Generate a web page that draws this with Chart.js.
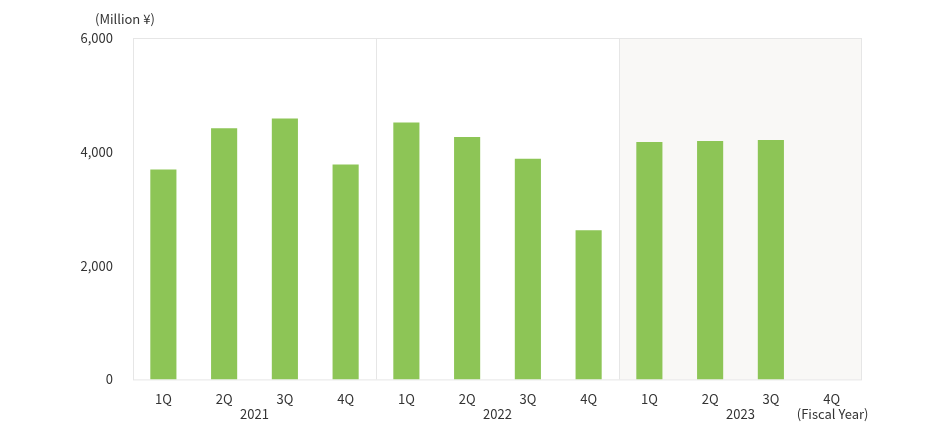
<!DOCTYPE html>
<html><head><meta charset="utf-8">
<script src="https://cdn.jsdelivr.net/npm/chart.js@4"></script>
<style>body{margin:0;background:#fff}#w{width:930px;height:441px;position:relative}</style>
</head><body><div id="w"><canvas id="c"></canvas></div>
<script>
const quarters=["1Q","2Q","3Q","4Q","1Q","2Q","3Q","4Q","1Q","2Q","3Q","4Q"];
const years=["2021","2022","2023"];
const sales=[3690,4414,4586,3776,4517,4259,3879,2621,4172,4190,4207,null];
const yTicks=[0,2000,4000,6000];
const FONT='"Noto Sans CJK JP","Noto Sans",sans-serif';
const deco={id:'deco',
 beforeDatasetsDraw(ch){const {ctx,chartArea:a,scales:{x}}=ch;
  const half=(x.getPixelForValue(1)-x.getPixelForValue(0))/2;
  const s3=x.getPixelForValue(8)-half;
  ctx.save();ctx.fillStyle='#f9f8f6';ctx.fillRect(s3,a.top,a.right-s3,a.bottom-a.top);
  ctx.strokeStyle='#e6e6e6';ctx.lineWidth=1;
  [4,8].forEach(i=>{const px=Math.round(x.getPixelForValue(i)-half)+0.5;ctx.beginPath();ctx.moveTo(px,a.top);ctx.lineTo(px,a.bottom);ctx.stroke();});
  ctx.strokeRect(a.left+0.5,a.top+0.5,a.right-a.left-1,a.bottom-a.top);
  ctx.restore();},
 afterDraw(ch){const {ctx,chartArea:a,scales:{x}}=ch;
  ctx.save();ctx.fillStyle='#333';ctx.font='13px '+FONT;ctx.textAlign='center';ctx.textBaseline='middle';
  years.forEach((y,i)=>{const c=(x.getPixelForValue(i*4+1)+x.getPixelForValue(i*4+2))/2;ctx.fillText(y,c,a.bottom+35);});
  ctx.fillText('(Fiscal Year)',x.getPixelForValue(11)+1,a.bottom+35);
  ctx.textAlign='left';ctx.fillText('(Million ¥)',95,19);
  ctx.restore();}};
new Chart(document.getElementById('c'),{type:'bar',
 data:{labels:quarters,datasets:[{data:sales,backgroundColor:'#8dc556',barPercentage:0.86,categoryPercentage:0.5}]},
 options:{responsive:true,maintainAspectRatio:false,animation:false,
  layout:{padding:{top:38,right:68,bottom:30,left:0}},
  plugins:{legend:{display:false},tooltip:{enabled:false}},
  scales:{
   x:{grid:{display:false},border:{display:false},ticks:{color:'#333',font:{family:FONT,size:13},padding:4}},
   y:{min:0,max:6000,afterBuildTicks(s){s.ticks=yTicks.map(v=>({value:v}));},
      afterFit(s){s.width=133;},
      grid:{display:false},border:{display:false},
      ticks:{color:'#333',font:{family:FONT,size:13},padding:12,callback:v=>v.toLocaleString('en-US')}}}},
 plugins:[deco]});
</script></body></html>
